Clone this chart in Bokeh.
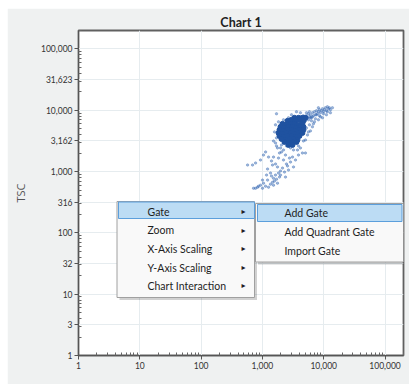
from bokeh.plotting import figure
from bokeh.models import FixedTicker, Label, BoxAnnotation, Range1d, ColumnDataSource
from bokeh.embed import file_html
from bokeh.resources import INLINE

# ---------------- data ----------------
# dense core of events (FSC1, TSC)
core_fsc = [3335, 3872, 4495, 5035,
            2563, 2980, 3459, 4020, 4666,
            2125, 2468, 2871, 3335, 3872, 4495,
            1972, 2291, 2661, 3094, 3593, 4169, 4666,
            1899, 2206, 2563, 2980, 3459, 4020, 4666,
            1829, 2125, 2468, 2871, 3335, 3872, 4495,
            1899, 2206, 2563, 2980, 3459, 4020,
            2047, 2377, 2762, 3212, 3730,
            2291, 2661, 3094, 3593,
            2661, 3094]
core_tsc = [7530, 7530, 7530, 7530,
            6720, 6980, 6720, 6980, 6720,
            6000, 5780, 6000, 6000, 5780, 6000,
            5360, 5160, 5360, 5360, 5160, 5360, 5360,
            4790, 4610, 4790, 4790, 4610, 4790, 4790,
            4270, 4110, 4270, 4270, 4110, 4270, 4270,
            3810, 3670, 3810, 3810, 3670, 3810,
            3400, 3280, 3400, 3400, 3280,
            3040, 2930, 3040, 3040,
            2720, 2720]

# sparse events (tail, halo and upper streak)
event_fsc = [1125, 1042, 1258, 1634, 1697, 1761, 1972, 2206, 2871, 3212, 3730, 5035, 3872,
             1516, 1829, 2206, 2871, 3094, 572, 690, 931, 773, 1461, 1761, 2125, 2661, 3212,
             2468, 1972, 1355, 1634, 1972, 2377, 1516, 1212, 1461, 1042, 931, 833, 716, 1003,
             1258, 1516, 1761, 1697, 1899, 1574, 1355, 1125, 865, 773, 1407, 1829, 2291, 2563,
             2762, 3459, 2377, 1899, 1407, 1212, 1634, 4169, 4495, 2468, 2047, 1167, 1003,
             1697, 1634, 1574, 1697, 1516, 2047, 3872, 4666, 5226, 5426, 5848, 6067, 6540,
             7050, 8190, 9520, 11060, 12850, 13850, 3593, 2980, 2661, 2206, 1829, 5035, 5633,
             6790, 8500, 9890, 11480, 4169,
             4169, 4330, 4666, 4845, 5035, 5226, 5426, 5633, 5848, 6067, 6300, 6540, 6790,
             7050, 7320, 7600, 7890, 8190, 8500, 8831, 9170, 9520, 9890, 10260, 10650, 11060,
             11480, 11920, 12380, 12850, 6300, 7320, 8831, 5848, 8190, 5226, 4495, 5035, 5633,
             6540, 7600, 6067]
event_tsc = [2090, 1860, 1725, 2930, 2620, 2430, 2430, 2250, 2430, 2250, 2250, 2010, 1860,
             1725, 1660, 1545, 1430, 1725, 1280, 1280, 1545, 1380, 1280, 1190, 1140, 1060, 1190,
             1330, 1020, 945, 877, 877, 813, 780, 726, 670, 648, 601, 557, 535, 535,
             557, 601, 648, 753, 813, 700, 624, 578, 578, 535, 845, 945, 980, 1235,
             1660, 1545, 1860, 2010, 1490, 1100, 1330, 2430, 2010, 2620, 2090, 877, 726,
             8760, 5780, 4440, 3540, 3160, 2720, 2620, 3160, 5160, 3960, 5780, 4610, 5360,
             6470, 6980, 7530, 8430, 9100, 10980, 9450, 8430, 7530, 6980, 6470, 3280, 4440,
             6000, 8120, 8760, 9450, 9100,
             7820, 6720, 8120, 7250, 6720, 8120, 7530, 8760, 7820, 8430, 7530, 9100, 8120,
             9450, 8430, 9810, 8760, 9450, 10190, 9100, 9810, 10580, 9450, 10190, 10980, 9810,
             11400, 10580, 10980, 10190, 6720, 7250, 7820, 9450, 10980, 9100, 7530, 7820, 6980,
             7820, 8430, 7530]

x_ticks = [1, 10, 100, 1000, 10000, 100000]
x_tick_labels = ["1", "10", "100", "1,000", "10,000", "100,000"]
y_ticks = [1, 3.1623, 10, 31.623, 100, 316.23, 1000, 3162.3, 10000, 31623, 100000]
y_tick_labels = ["1", "3", "10", "32", "100", "316", "1,000", "3,162", "10,000", "31,623", "100,000"]

menu_items = ["Gate", "Zoom", "X-Axis Scaling", "Y-Axis Scaling", "Chart Interaction"]
submenu_items = ["Add Gate", "Add Quadrant Gate", "Import Gate"]

# ---------------- figure ----------------
FONT = "Lato"
p = figure(width=402, height=376, margin=(8, 0, 0, 7),
           x_axis_type="log", y_axis_type="log",
           x_range=Range1d(1, 200000), y_range=Range1d(1, 200000),
           output_backend="svg", toolbar_location=None,
           min_border_left=71, min_border_right=6, min_border_top=22, min_border_bottom=29,
           background_fill_color="white", border_fill_color="#eff1f1")

p.title.text = "Chart 1"
p.title.align = "center"
p.title.text_font = FONT
p.title.text_font_size = "12.5px"
p.title.text_font_style = "bold"
p.title.text_color = "#222222"
p.title.standoff = 2

p.outline_line_color = "#606060"
p.outline_line_width = 1.8

minor = [m * 10 ** d for d in range(0, 6) for m in range(2, 10)]
p.xaxis.ticker = FixedTicker(ticks=x_ticks, minor_ticks=minor)
p.yaxis.ticker = FixedTicker(ticks=y_ticks, minor_ticks=minor)
p.xaxis.major_label_overrides = {t: l for t, l in zip(x_ticks, x_tick_labels)}
p.yaxis.major_label_overrides = {t: l for t, l in zip(y_ticks, y_tick_labels)}

for ax in (p.xaxis[0], p.yaxis[0]):
    ax.axis_line_color = "#555555"
    ax.major_tick_line_color = "#555555"
    ax.minor_tick_line_color = "#666666"
    ax.major_tick_out = 4
    ax.major_tick_in = 0
    ax.minor_tick_out = 0
    ax.minor_tick_in = 3
    ax.major_label_text_font = FONT
    ax.major_label_text_font_size = "8.5px"
    ax.major_label_text_color = "#333333"
    ax.major_label_standoff = 2

p.yaxis.axis_label = "TSC"
p.yaxis.axis_label_text_font = "Open Sans"
p.yaxis.axis_label_text_font_size = "11px"
p.yaxis.axis_label_text_font_style = "normal"
p.yaxis.axis_label_text_color = "#555555"
p.yaxis.axis_label_standoff = 10

p.grid.grid_line_color = "#e6ecef"
p.grid.grid_line_width = 1

ev = ColumnDataSource(dict(x=event_fsc, y=event_tsc))
co = ColumnDataSource(dict(x=core_fsc, y=core_tsc))
p.scatter("x", "y", source=ev, size=2.5, fill_color="#2b5fae", line_color="#2b5fae",
          fill_alpha=0.45, line_alpha=0.3)
p.scatter("x", "y", source=co, size=5, fill_color="#1f52a0", line_color="#1f52a0",
          fill_alpha=1.0, line_alpha=1.0)

# x-axis label
p.add_layout(Label(x=165, y=-21.5, x_units="screen", y_units="screen", text="ESC1",
                   text_font="Open Sans", text_font_size="11px", text_color="#555555",
                   text_align="center", text_baseline="middle"))

# ---------------- context menu overlay (screen units, frame-relative) ----------------
def box(l, r, t, b, fill, line, fa=1.0, la=1.0):
    p.add_layout(BoxAnnotation(left=l, right=r, top=t, bottom=b,
                               left_units="screen", right_units="screen",
                               top_units="screen", bottom_units="screen",
                               fill_color=fill, fill_alpha=fa,
                               line_color=line, line_alpha=la, line_width=1))

# shadows
box(41, 178.5, 151.5, 55.5, "#000000", None, fa=0.18, la=0)
box(179.5, 327, 149.5, 91, "#000000", None, fa=0.18, la=0)
# main menu
box(38.5, 176, 154, 58, "#f9f9f9", "#a0a0a0")
box(40, 176, 153.5, 137, "#bcdcf4", "#5c9fdc")
# sub menu
box(177, 325, 152, 93.5, "#f9f9f9", "#a0a0a0")
box(179, 323.5, 151, 134, "#bcdcf4", "#5c9fdc")

menu_y = [144, 125.5, 107, 88, 70]
for txt, yy in zip(menu_items, menu_y):
    p.add_layout(Label(x=69, y=yy, x_units="screen", y_units="screen", text=txt,
                       text_font=FONT, text_font_size="10.5px", text_color="#1e1e1e",
                       text_baseline="middle"))
    p.add_layout(Label(x=165, y=yy, x_units="screen", y_units="screen", text="▸",
                       text_font="DejaVu Sans", text_font_size="8px", text_color="#222222",
                       text_align="center", text_baseline="middle"))

sub_y = [142.5, 124, 105]
for txt, yy in zip(submenu_items, sub_y):
    p.add_layout(Label(x=206, y=yy, x_units="screen", y_units="screen", text=txt,
                       text_font=FONT, text_font_size="10.5px", text_color="#1e1e1e",
                       text_baseline="middle"))

open("out.html", "w").write(file_html(p, INLINE))
